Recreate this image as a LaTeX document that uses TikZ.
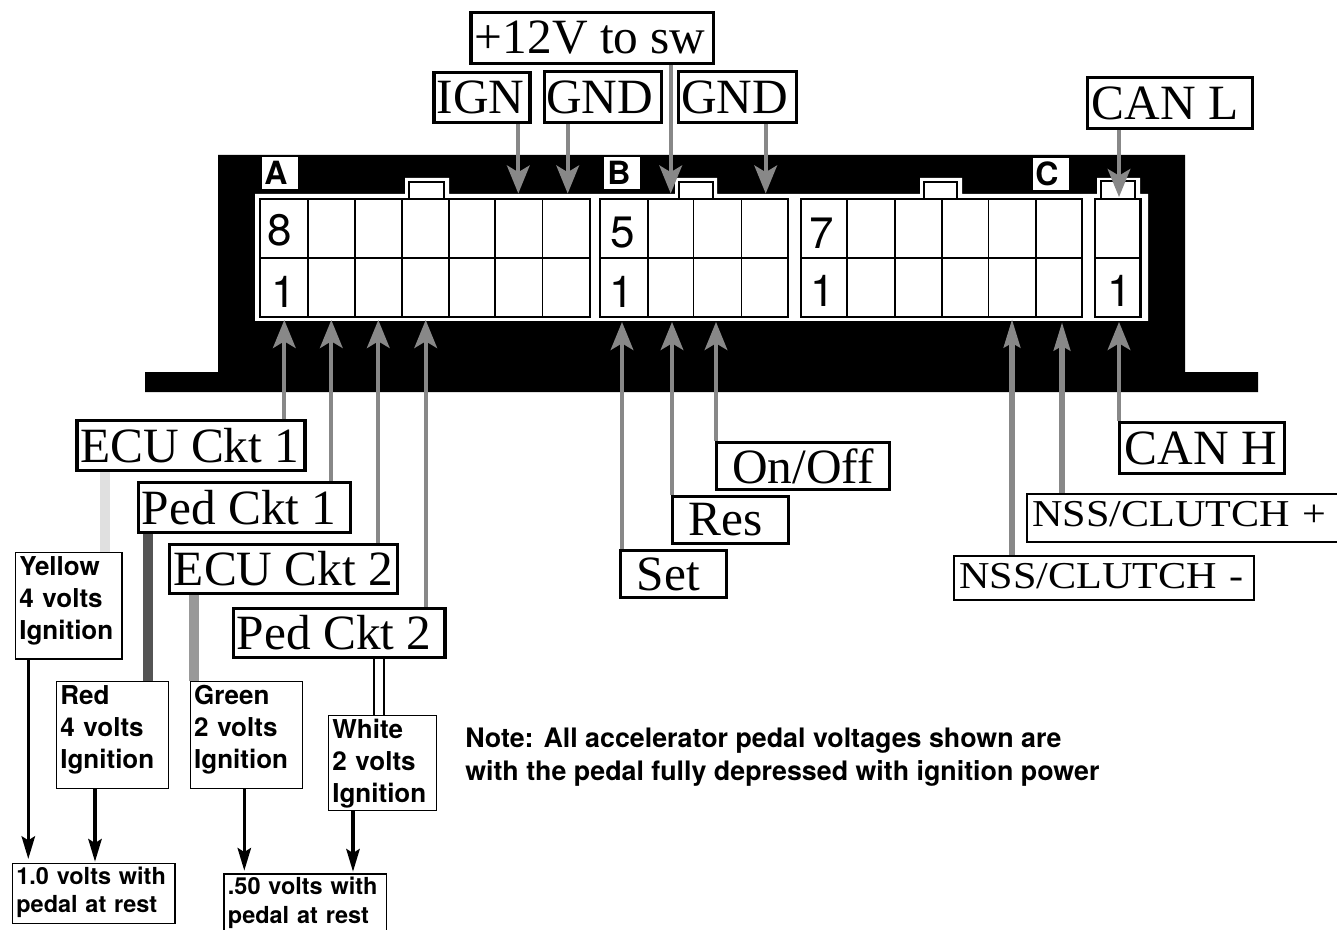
\documentclass[tikz,border=0pt]{standalone}
\usepackage{fontspec}
\setmainfont{TeX Gyre Heros}
\newfontfamily\labelfont{Liberation Serif}
\newfontfamily\nssfont[FakeStretch=1.11]{Liberation Serif}
\usetikzlibrary{arrows.meta,calc}

\definecolor{wiregray}{HTML}{888888}
\newcommand{\voltlines}[3]{\rule{0pt}{16pt}#1\\#2\\Ignition\rule[-#3]{0pt}{0pt}}
\newcommand{\restlines}[3]{\rule{0pt}{14.7pt}#1\\#2\rule[-#3]{0pt}{0pt}}
\tikzset{
  pinlabel/.style={draw=black,fill=white,line width=2.4pt,inner sep=0pt,font=\labelfont\fontsize{37}{37}\selectfont},
  nsslabel/.style={draw=black,fill=white,line width=1.6pt,inner xsep=4pt,inner ysep=0pt,align=left,font=\nssfont\fontsize{28.5}{28.5}\selectfont},
  voltbox/.style={draw=black,fill=white,line width=1pt,anchor=north west,inner xsep=3pt,inner ysep=1pt,align=left,
    font=\bfseries\fontsize{19.5}{24.1}\selectfont},
  restbox/.style={voltbox,font=\bfseries\fontsize{17.6}{21.3}\selectfont},
  pinarrow/.style={draw=wiregray,line width=2.8pt,-{Stealth[length=21pt,width=17pt,inset=5pt]}},
  nssarrow/.style={draw=wiregray,line width=#1,-{Stealth[length=21pt,width=12pt,inset=3pt]}},
  downarrow/.style={draw=black,line width=2.6pt,-{Stealth[length=17pt,width=10pt,inset=3pt]}},
  cell/.style={draw=black,line width=1.2pt},
  letterbox/.style={fill=white,inner sep=0pt,font=\bfseries\fontsize{24}{24}\selectfont},
  pindigit/.style={inner sep=0pt,font=\fontsize{33}{33}\selectfont}
}

\begin{document}
\begin{tikzpicture}[x=0.75pt,y=-0.75pt]
    \useasboundingbox (0,0) rectangle (1337,930);

    % housing
    \fill[black] (218,155) -- (1185,155) -- (1185,372) -- (1258,372) -- (1258,392)
      -- (145,392) -- (145,372) -- (218,372) -- cycle;
    \fill[white] (255,194) -- (405,194) -- (405,178) -- (449,178) -- (449,194)
      -- (675,194) -- (675,178) -- (717,178) -- (717,194)
      -- (920,194) -- (920,178) -- (962,178) -- (962,194)
      -- (1097,194) -- (1097,178) -- (1140,178) -- (1140,194)
      -- (1148,194) -- (1148,321) -- (255,321) -- cycle;
    \draw[cell,line width=0.9pt] (409,199) -- (409,182) -- (444,182) -- (444,199);
    \draw[cell,line width=0.9pt] (679,199) -- (679,182) -- (713,182) -- (713,199);
    \draw[cell,line width=0.9pt] (924,199) -- (924,182) -- (957,182) -- (957,199);
    \draw[cell,line width=0.9pt] (1101,199) -- (1101,181) -- (1135,181) -- (1135,199);

    % cavities
    \draw[cell] (260,199) rectangle (590,317) (260,258) -- (590,258);
    \foreach \cx in {307.7,355,401.7,449,495,542.5}
      \draw[cell] (\cx,199) -- (\cx,317);
    \draw[cell] (600,199) rectangle (788,317) (600,258) -- (788,258);
    \foreach \cx in {693.5,741.5}
      \draw[cell] (\cx,199) -- (\cx,317);
    \draw[cell,line width=2.2pt] (648,199) -- (648,317);
    \draw[cell] (801,199) rectangle (1082,317) (801,258) -- (1082,258);
    \foreach \cx in {847,895,942,988.5,1036}
      \draw[cell] (\cx,199) -- (\cx,317);
    \draw[cell,line width=2pt] (1095,199) rectangle (1140.5,317) (1095,258) -- (1140.5,258);

    \node[letterbox,minimum width=27pt,minimum height=24pt] (letterA) at (280,173) {A\kern6pt};
    \node[letterbox,minimum width=27pt,minimum height=24pt] (letterB) at (622,173) {B\kern4.5pt};
    \node[letterbox,minimum width=27pt,minimum height=24pt] (letterC) at (1051,174) {C\kern6pt};

    \node[pindigit] (eightA) at (279.7,230) {8};
    \node[pindigit] (oneA) at (284,292) {1};
    \node[pindigit] (fiveB) at (622.5,233) {5};
    \node[pindigit] (oneB) at (622,292) {1};
    \node[pindigit] (sevenC) at (822,233) {7};
    \node[pindigit] (oneC) at (823,291) {1};
    \node[pindigit] (oneD) at (1120,291) {1};

    % top labels
    \node[pinlabel,minimum width=182pt,minimum height=38pt] (swlabel) at (592.3,38) {+12V to sw\kern3pt};
    \node[pinlabel,minimum width=72pt,minimum height=37.5pt] (ignlabel) at (482,97.7) {IGN\kern2pt};
    \node[pinlabel,minimum width=88pt,minimum height=38pt] (gndA) at (602.8,97.2) {GND\kern4.5pt};
    \node[pinlabel,minimum width=88.5pt,minimum height=38pt] (gndB) at (737.5,97) {GND\kern4.5pt};
    \node[pinlabel,minimum width=124pt,minimum height=38pt] (canL) at (1170,103) {CAN L\kern7.5pt};

    % bottom labels
    \node[pinlabel,minimum width=171pt,minimum height=37.4pt] (ecuA) at (191,445.8) {ECU Ckt 1\kern2pt};
    \node[pinlabel,minimum width=159pt,minimum height=37.4pt] (pedA) at (244.2,507.3) {Ped Ckt 1\kern7.5pt};
    \node[pinlabel,minimum width=171pt,minimum height=37pt] (ecuB) at (283.5,568.8) {ECU Ckt 2};
    \node[pinlabel,minimum width=158.6pt,minimum height=37pt] (pedB) at (339.3,633) {Ped Ckt 2\kern7.5pt};
    \node[pinlabel,minimum width=79.4pt,minimum height=35pt] (setlabel) at (673.5,574) {Set\kern7.5pt};
    \node[pinlabel,minimum width=87pt,minimum height=35pt] (reslabel) at (730.4,520) {Res\kern7.5pt};
    \node[pinlabel,minimum width=129.6pt,minimum height=35pt] (onofflabel) at (803,466) {On/Off};
    \node[pinlabel,minimum width=124pt,minimum height=38pt] (canH) at (1202,448) {CAN H\kern2pt};
    \node[nsslabel,text width=232pt,minimum height=36pt] (nssP) at (1187,518) {NSS/CLUTCH +\rule[-6pt]{0pt}{0pt}};
    \node[nsslabel,text width=217pt,minimum height=33pt] (nssM) at (1104,578) {NSS/CLUTCH -\rule[-3pt]{0pt}{0pt}};

    % voltage boxes
    \node[voltbox,text width=74pt] (yellowbox) at (14.7,551.7) {\voltlines{Yellow}{4 volts}{13.7pt}};
    \node[voltbox,text width=78pt] (redbox) at (55.7,680.7) {\voltlines{Red}{4 volts}{14pt}};
    \node[voltbox,text width=78pt] (greenbox) at (189.5,680.7) {\voltlines{Green}{2 volts}{14pt}};
    \node[voltbox,text width=75pt] (whitebox) at (327.7,714.7) {\voltlines{White}{2 volts}{5.3pt}};
    \node[restbox,text width=116pt] (restA) at (11.7,862.7) {\restlines{1.0 volts with}{pedal at rest}{7.2pt}};
    \node[restbox,text width=116pt] (restB) at (223.3,873.3) {\restlines{.50 volts with}{pedal at rest}{30pt}};

    \node[inner sep=0pt,anchor=north west,align=left,font=\bfseries\fontsize{20.1}{24.8}\selectfont] (pedalnote) at (465,728)
      {Note: All accelerator pedal voltages shown are\\with the pedal fully depressed with ignition power};

    % pins
    \coordinate (pinA) at (284.3,320);
    \coordinate (pinB) at (331.3,320);
    \coordinate (pinC) at (378.3,320);
    \coordinate (pinD) at (425.7,320);
    \coordinate (pinE) at (622,322);
    \coordinate (pinF) at (672,322);
    \coordinate (pinG) at (716,322);
    \coordinate (pinH) at (1119,322);
    \coordinate (pinJ) at (1012,319);
    \coordinate (pinK) at (1062,322);
    \coordinate (pinL) at (518.3,193.5);
    \coordinate (pinM) at (567.7,193.5);
    \coordinate (pinN) at (670.7,193.5);
    \coordinate (pinP) at (765.7,193.5);
    \coordinate (pinQ) at (1119,197);

    \draw[pinarrow] (ecuA.north -| pinA) -- (pinA);
    \draw[pinarrow] (pedA.north -| pinB) -- (pinB);
    \draw[pinarrow] (ecuB.north -| pinC) -- (pinC);
    \draw[pinarrow] (pedB.north -| pinD) -- (pinD);
    \draw[pinarrow] (setlabel.north -| pinE) -- (pinE);
    \draw[pinarrow] (reslabel.north -| pinF) -- (pinF);
    \draw[pinarrow] (onofflabel.north -| pinG) -- (pinG);
    \draw[pinarrow] (canH.north -| pinH) -- (pinH);
    \draw[nssarrow=5pt] (nssM.north -| pinJ) -- (pinJ);
    \draw[nssarrow=4.5pt] (nssP.north -| pinK) -- (pinK);
    \draw[pinarrow] (ignlabel.south -| pinL) -- (pinL);
    \draw[pinarrow] (gndA.south -| pinM) -- (pinM);
    \draw[pinarrow] (swlabel.south -| pinN) -- (pinN);
    \draw[pinarrow] (gndB.south -| pinP) -- (pinP);
    \draw[pinarrow] (canL.south -| pinQ) -- (pinQ);

    % wires down to the boxes
    \coordinate (wireA) at (104.5,0);
    \coordinate (wireB) at (148.3,0);
    \coordinate (wireC) at (194,0);
    \coordinate (wireD) at (379,0);
    \draw[line width=7.5pt,draw=black!12] (ecuA.south -| wireA) -- (yellowbox.north -| wireA);
    \draw[line width=7.5pt,draw=black!67] (pedA.south -| wireB) -- (redbox.north -| wireB);
    \draw[line width=7.5pt,draw=black!40] (ecuB.south -| wireC) -- (greenbox.north -| wireC);
    \draw[line width=8.6pt,draw=black] (pedB.south -| wireD) -- (whitebox.north -| wireD);
    \draw[line width=5.5pt,draw=white] (pedB.south -| wireD) -- (whitebox.north -| wireD);

    % arrows to the rest values
    \coordinate (tipA) at (28.3,859);
    \coordinate (tipB) at (95,861.7);
    \coordinate (tipC) at (244.3,870.7);
    \coordinate (tipD) at (353,871.7);
    \draw[downarrow] (yellowbox.south -| tipA) -- (tipA);
    \draw[downarrow] (redbox.south -| tipB) -- (tipB);
    \draw[downarrow] (greenbox.south -| tipC) -- (tipC);
    \draw[downarrow] (whitebox.south -| tipD) -- (tipD);
\end{tikzpicture}
\end{document}
